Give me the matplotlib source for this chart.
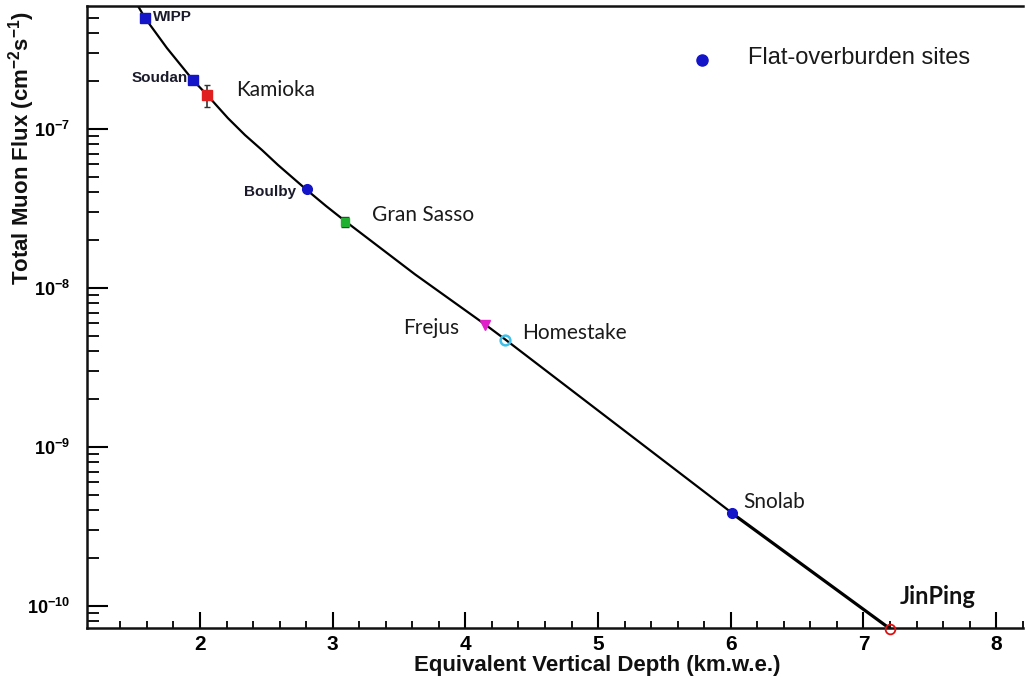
import numpy as np
import matplotlib
matplotlib.use("Agg")
import matplotlib.pyplot as plt
from matplotlib.ticker import FixedLocator, FuncFormatter, LogLocator, NullFormatter

plt.rcParams['mathtext.fontset'] = 'custom'
for k in ('rm', 'bf', 'it', 'sf'):
    plt.rcParams['mathtext.' + k] = 'Liberation Sans:bold'
plt.rcParams['mathtext.default'] = 'rm'

# ---- data ----
sites = ["WIPP", "Soudan", "Kamioka", "Boulby", "Gran Sasso", "Frejus",
         "Homestake", "Snolab", "JinPing"]
depth = [1.585, 1.95, 2.05, 2.81, 3.09, 4.15, 4.30, 6.01, 7.20]       # km.w.e.
flux = [4.99e-7, 2.03e-7, 1.64e-7, 4.18e-8, 2.61e-8, 5.85e-9, 4.71e-9,
        3.83e-10, 7.2e-11]                                             # cm^-2 s^-1
kamioka_err_lo = 0.27e-7
kamioka_err_hi = 0.25e-7
gransasso_err = 0.2e-8

curve_depth = [1.533, 1.586, 1.751, 1.947, 2.053, 2.211, 2.339, 2.467, 2.588,
               2.806, 2.950, 3.093, 3.620, 4.155, 4.306, 6.009]
curve_flux = [5.94e-7, 4.99e-7, 3.23e-7, 2.03e-7, 1.64e-7, 1.17e-7, 9.17e-8,
              7.38e-8, 5.94e-8, 4.13e-8, 3.28e-8, 2.64e-8, 1.22e-8, 5.85e-9,
              4.71e-9, 3.85e-10]

xticks = [2, 3, 4, 5, 6, 7, 8]
yticks_exp = [-10, -9, -8, -7]

W, H = 1026, 683
fig = plt.figure(figsize=(W / 100, H / 100), dpi=100)
fig.patch.set_facecolor('white')
ax = fig.add_axes([87 / W, 1 - 628 / H, (1023 - 87) / W, (628 - 6) / H])
ax.set_yscale('log')
ax.set_xlim(1.1485, 8.202)
ax.set_ylim(7.28e-11, 5.94e-7)

# curve and extension
ax.plot(curve_depth, curve_flux, color='black', lw=1.6, zorder=2,
        solid_joinstyle='round')
ax.plot([depth[7], depth[8]], [flux[7], flux[8]], color='black', lw=2.3, zorder=2)

blue = '#1414c8'
ms = 7
ax.plot(depth[0], flux[0], 's', color=blue, ms=ms, zorder=3)
ax.plot(depth[1], flux[1], 's', color=blue, ms=ms, zorder=3)
ax.errorbar(depth[2], flux[2], yerr=[[kamioka_err_lo], [kamioka_err_hi]],
            fmt='s', color='#e02020', ecolor='#333333', ms=ms, elinewidth=1.2,
            capsize=2, zorder=3)
ax.plot(depth[3], flux[3], 'o', color=blue, ms=ms, zorder=3)
ax.errorbar(depth[4], flux[4], yerr=gransasso_err, fmt='s', color='#20b030',
            ecolor='#333333', ms=5.5, elinewidth=1.0, capsize=3, zorder=3)
ax.plot(depth[5], flux[5], 'v', color='#e020c8', ms=ms, zorder=3)
ax.plot(depth[6], flux[6], 'o', mfc='none', mec='#40c0e8', mew=1.8, ms=ms, zorder=3)
ax.plot(depth[7], flux[7], 'o', color=blue, ms=ms, zorder=3)
ax.plot(depth[8], flux[8], 'o', mfc='none', mec='#e01010', mew=1.3, ms=7,
        zorder=4, clip_on=False)

# axes styling
ax.spines['right'].set_visible(False)
for s in ('left', 'bottom', 'top'):
    ax.spines[s].set_linewidth(1.8)
    ax.spines[s].set_color('#111111')

ax.xaxis.set_major_locator(FixedLocator(xticks))
ax.xaxis.set_minor_locator(FixedLocator(np.arange(1.4, 8.21, 0.2)))
ax.yaxis.set_major_locator(FixedLocator([10.0 ** e for e in yticks_exp]))
ax.yaxis.set_minor_locator(LogLocator(base=10, subs=np.arange(2, 10), numticks=20))
ax.yaxis.set_minor_formatter(NullFormatter())
ax.yaxis.set_major_formatter(FuncFormatter(lambda v, p: r'$10^{%d}$' % round(np.log10(v))))
ax.xaxis.set_major_formatter(FuncFormatter(lambda v, p: '%d' % v))

ax.tick_params(axis='x', which='major', direction='in', length=11.5, width=1.5,
               pad=5, labelsize=15, top=False)
ax.tick_params(axis='x', which='minor', direction='in', length=5, width=1.3, top=False)
ax.tick_params(axis='y', which='major', direction='in', length=15, width=1.5,
               pad=12, labelsize=13, right=False)
ax.tick_params(axis='y', which='minor', direction='in', length=8.5, width=1.3, right=False)
for lab in ax.get_xticklabels():
    lab.set_fontfamily('Liberation Sans')
    lab.set_fontweight('bold')

def fp(px, py):
    return px / W, 1 - py / H

bold_small = dict(family='Liberation Sans', weight='bold', fontsize=11, color='#1a1a2a')
fig.text(*fp(153, 17), "WIPP", ha='left', va='center', **bold_small)
fig.text(*fp(188, 78), "Soudan", ha='right', va='center', **bold_small)
fig.text(*fp(296, 192), "Boulby", ha='right', va='center', **bold_small)

reg = dict(family='Lato', fontsize=15, color='#1a1a1a')
fig.text(*fp(236, 90), "Kamioka", ha='left', va='center', **reg)
fig.text(*fp(372, 215), "Gran Sasso", ha='left', va='center', **reg)
fig.text(*fp(403, 328), "Frejus", ha='left', va='center', **reg)
fig.text(*fp(522, 333), "Homestake", ha='left', va='center', **reg)
fig.text(*fp(743, 502), "Snolab", ha='left', va='center', **reg)
fig.text(*fp(900, 596), "JinPing", ha='left', va='center', family='Lato',
         weight='bold', fontsize=17, color='#111111')

# legend
ax.plot([702 / W], [1 - 60 / H], 'o', color=blue, ms=8, transform=fig.transFigure,
        clip_on=False)
fig.text(*fp(748, 58), "Flat-overburden sites", ha='left', va='center',
         family='Liberation Sans', fontsize=17, color='#1a1a1a')

# axis titles
fig.text(*fp(597, 665), "Equivalent Vertical Depth (km.w.e.)", ha='center', va='center',
         family='Liberation Sans', weight='bold', fontsize=16, color='#111111')
fig.text(*fp(22, 148), "Total Muon Flux (cm$^{-2}$s$^{-1}$)", ha='center', va='center',
         rotation=90, family='Liberation Sans', weight='bold', fontsize=16, color='#111111')

fig.savefig('out.png', dpi=100, facecolor='white')
